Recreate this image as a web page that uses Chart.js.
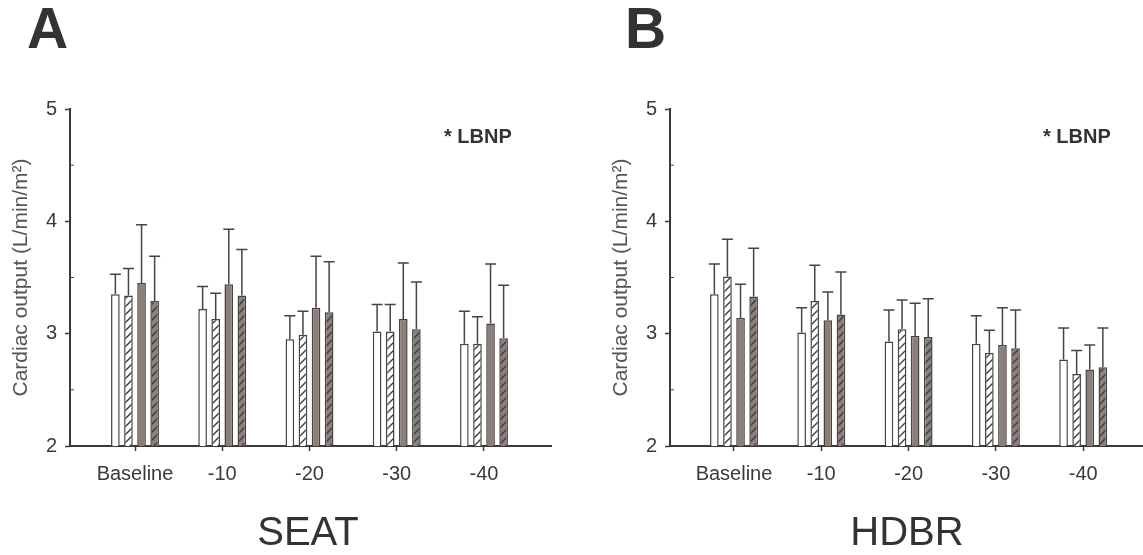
<!DOCTYPE html>
<html>
<head>
<meta charset="utf-8">
<script src="https://cdn.jsdelivr.net/npm/chart.js@4"></script>
<style>
  html,body{margin:0;padding:0;background:#fff;}
  body{width:1143px;height:555px;position:relative;overflow:hidden;font-family:"Liberation Sans",Arial,sans-serif;}
  canvas{position:absolute;top:0;}
  .lbl{position:absolute;line-height:1;color:#333;white-space:nowrap;}
  .big{font-size:57px;font-weight:bold;top:0;}
  .star{font-size:20px;font-weight:bold;top:126px;}
  .cond{font-size:40px;top:511px;width:300px;text-align:center;}
</style>
</head>
<body>
<canvas id="seat" width="571" height="555" style="left:0"></canvas>
<canvas id="hdbr" width="543" height="555" style="left:600px"></canvas>

<div class="lbl big" style="left:27px">A</div>
<div class="lbl big" style="left:625px">B</div>
<div class="lbl star" style="left:444px">* LBNP</div>
<div class="lbl star" style="left:1043px">* LBNP</div>
<div class="lbl cond" style="left:158px">SEAT</div>
<div class="lbl cond" style="left:757px">HDBR</div>

<script>
/* --- DATA --- */
const categories = ['Baseline','-10','-20','-30','-40'];
const yTicks     = [2,3,4,5];
const minorTicks = [2.5,3.5,4.5];

// SEAT panel: means and upper SD per bar series
const seatS1 = [3.35, 3.22, 2.95, 3.02, 2.91];
const seatS2 = [3.34, 3.13, 2.99, 3.02, 2.91];
const seatS3 = [3.45, 3.44, 3.23, 3.13, 3.09];
const seatS4 = [3.29, 3.34, 3.19, 3.04, 2.96];
const seatE1 = [0.18, 0.20, 0.21, 0.24, 0.29];
const seatE2 = [0.24, 0.23, 0.21, 0.24, 0.24];
const seatE3 = [0.52, 0.49, 0.46, 0.50, 0.53];
const seatE4 = [0.40, 0.41, 0.45, 0.42, 0.47];

// HDBR panel
const hdbrS1 = [3.35, 3.01, 2.93, 2.91, 2.77];
const hdbrS2 = [3.51, 3.29, 3.04, 2.83, 2.64];
const hdbrS3 = [3.14, 3.12, 2.98, 2.90, 2.68];
const hdbrS4 = [3.33, 3.17, 2.97, 2.87, 2.70];
const hdbrE1 = [0.27, 0.22, 0.28, 0.25, 0.28];
const hdbrE2 = [0.33, 0.32, 0.26, 0.20, 0.21];
const hdbrE3 = [0.30, 0.25, 0.29, 0.33, 0.22];
const hdbrE4 = [0.43, 0.38, 0.34, 0.34, 0.35];

/* --- STYLE --- */
const ink = '#3a3a3a';
const brown = '#8c7e78';
const font = '"Liberation Sans", Arial, sans-serif';

function hatch(bg){
  const c = document.createElement('canvas');
  c.width = 8; c.height = 8;
  const x = c.getContext('2d');
  x.fillStyle = bg; x.fillRect(0,0,8,8);
  x.strokeStyle = '#3c3c3c'; x.lineWidth = 1.4;
  x.beginPath();
  x.moveTo(0,8); x.lineTo(8,0);
  x.moveTo(-2,2); x.lineTo(2,-2);
  x.moveTo(6,10); x.lineTo(10,6);
  x.stroke();
  return x.createPattern(c,'repeat');
}
const fills = ['#ffffff', hatch('#ffffff'), brown, hatch(brown)];

/* --- ERROR BARS + MINOR TICKS --- */
const errPlugin = {
  id:'errbars',
  afterDatasetsDraw(chart){
    const ctx = chart.ctx, ys = chart.scales.y;
    ctx.save();
    ctx.strokeStyle = '#444'; ctx.lineWidth = 1.5;
    chart.data.datasets.forEach((ds,d)=>{
      chart.getDatasetMeta(d).data.forEach((bar,i)=>{
        const top = ys.getPixelForValue(ds.data[i].y + ds.err[i]);
        ctx.beginPath();
        ctx.moveTo(bar.x, bar.y); ctx.lineTo(bar.x, top);
        ctx.moveTo(bar.x-5.5, top); ctx.lineTo(bar.x+5.5, top);
        ctx.stroke();
      });
    });
    // inward minor ticks on y axis
    const left = chart.chartArea.left;
    ctx.lineWidth = 1;
    minorTicks.forEach(v=>{
      const y = ys.getPixelForValue(v);
      ctx.beginPath(); ctx.moveTo(left, y); ctx.lineTo(left+4, y); ctx.stroke();
    });
    ctx.restore();
  }
};

function makePanel(id, means, errs, xMin, xMax, padRight){
  return new Chart(document.getElementById(id), {
    type:'bar',
    data:{datasets: means.map((m,k)=>({
      data: m.map((v,i)=>({x:i, y:v})),
      err: errs[k],
      backgroundColor: fills[k],
      borderColor: '#444',
      borderWidth: 1.5,
      categoryPercentage: 0.6,
      barPercentage: 0.66
    }))},
    options:{
      responsive:false, animation:false,
      layout:{padding:{top:109, bottom:59, left:0, right:padRight}},
      plugins:{legend:{display:false}, tooltip:{enabled:false}},
      scales:{
        x:{
          type:'linear', min:xMin, max:xMax, offset:false,
          afterBuildTicks: s => { s.ticks = categories.map((c,i)=>({value:i})); },
          afterFit: s => { s.height = 50; },
          ticks:{callback: v => categories[v], autoSkip:false, maxRotation:0, padding:11,
                 color:ink, font:{family:font, size:20}},
          grid:{offset:false, drawOnChartArea:false, drawTicks:true, tickLength:5, color:ink, tickWidth:1.5},
          border:{display:true, color:ink, width:2}
        },
        y:{
          min:2, max:5,
          afterBuildTicks: s => { s.ticks = yTicks.map(v=>({value:v})); },
          afterFit: s => { s.width = 70; },
          ticks:{padding:8, color:ink, font:{family:font, size:20}},
          grid:{drawOnChartArea:false, drawTicks:true, tickLength:5, color:ink, tickWidth:1.5},
          border:{display:true, color:ink, width:2},
          title:{display:true, text:'Cardiac output (L/min/m²)', color:'#555',
                 font:{family:font, size:21}, padding:{top:9, bottom:0}}
        }
      }
    },
    plugins:[errPlugin]
  });
}

makePanel('seat', [seatS1,seatS2,seatS3,seatS4], [seatE1,seatE2,seatE3,seatE4], -0.745, 4.768, 20);
makePanel('hdbr', [hdbrS1,hdbrS2,hdbrS3,hdbrS4], [hdbrE1,hdbrE2,hdbrE3,hdbrE4], -0.733, 4.685, 0);
</script>
</body>
</html>
